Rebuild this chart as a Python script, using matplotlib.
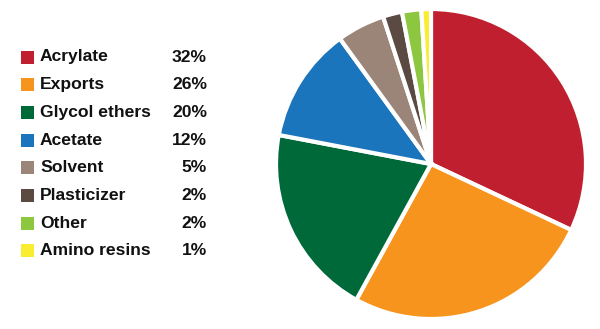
import matplotlib.pyplot as plt
from matplotlib.patches import Rectangle

labels = ['Acrylate', 'Exports', 'Glycol ethers', 'Acetate', 'Solvent',
          'Plasticizer', 'Other', 'Amino resins']
shares = [32, 26, 20, 12, 5, 2, 2, 1]
colors = ['#c01f2f', '#f7941d', '#00693a', '#1b75bc', '#9b8579',
          '#5a4a42', '#8dc63f', '#f9ec31']

plt.rcParams['font.family'] = ['Liberation Sans', 'DejaVu Sans']

W, H = 600, 329
fig = plt.figure(figsize=(W / 100, H / 100), dpi=100)

# pie
r = 155
cx, cy = 431, 164
ax = fig.add_axes([(cx - r) / W, (H - cy - r) / H, 2 * r / W, 2 * r / H])
ax.pie(shares, colors=colors, startangle=90, counterclock=False,
       wedgeprops=dict(edgecolor='white', linewidth=3))
ax.set_xlim(-1, 1)
ax.set_ylim(-1, 1)
ax.set_aspect('auto')

# legend drawn by hand
y0, dy = 57, 27.7
for i, (lab, val, col) in enumerate(zip(labels, shares, colors)):
    y = y0 + i * dy
    fig.patches.append(Rectangle((21 / W, (H - y - 6.5) / H), 12.5 / W, 13 / H,
                                 transform=fig.transFigure, facecolor=col,
                                 edgecolor='none'))
    fig.text(40 / W, (H - y) / H, lab, fontsize=12.6, fontweight='bold',
             va='center', ha='left', color='#111111')
    fig.text(207 / W, (H - y) / H, f'{val}%', fontsize=12.6, fontweight='bold',
             va='center', ha='right', color='#111111')

fig.savefig('out.png', dpi=100)
